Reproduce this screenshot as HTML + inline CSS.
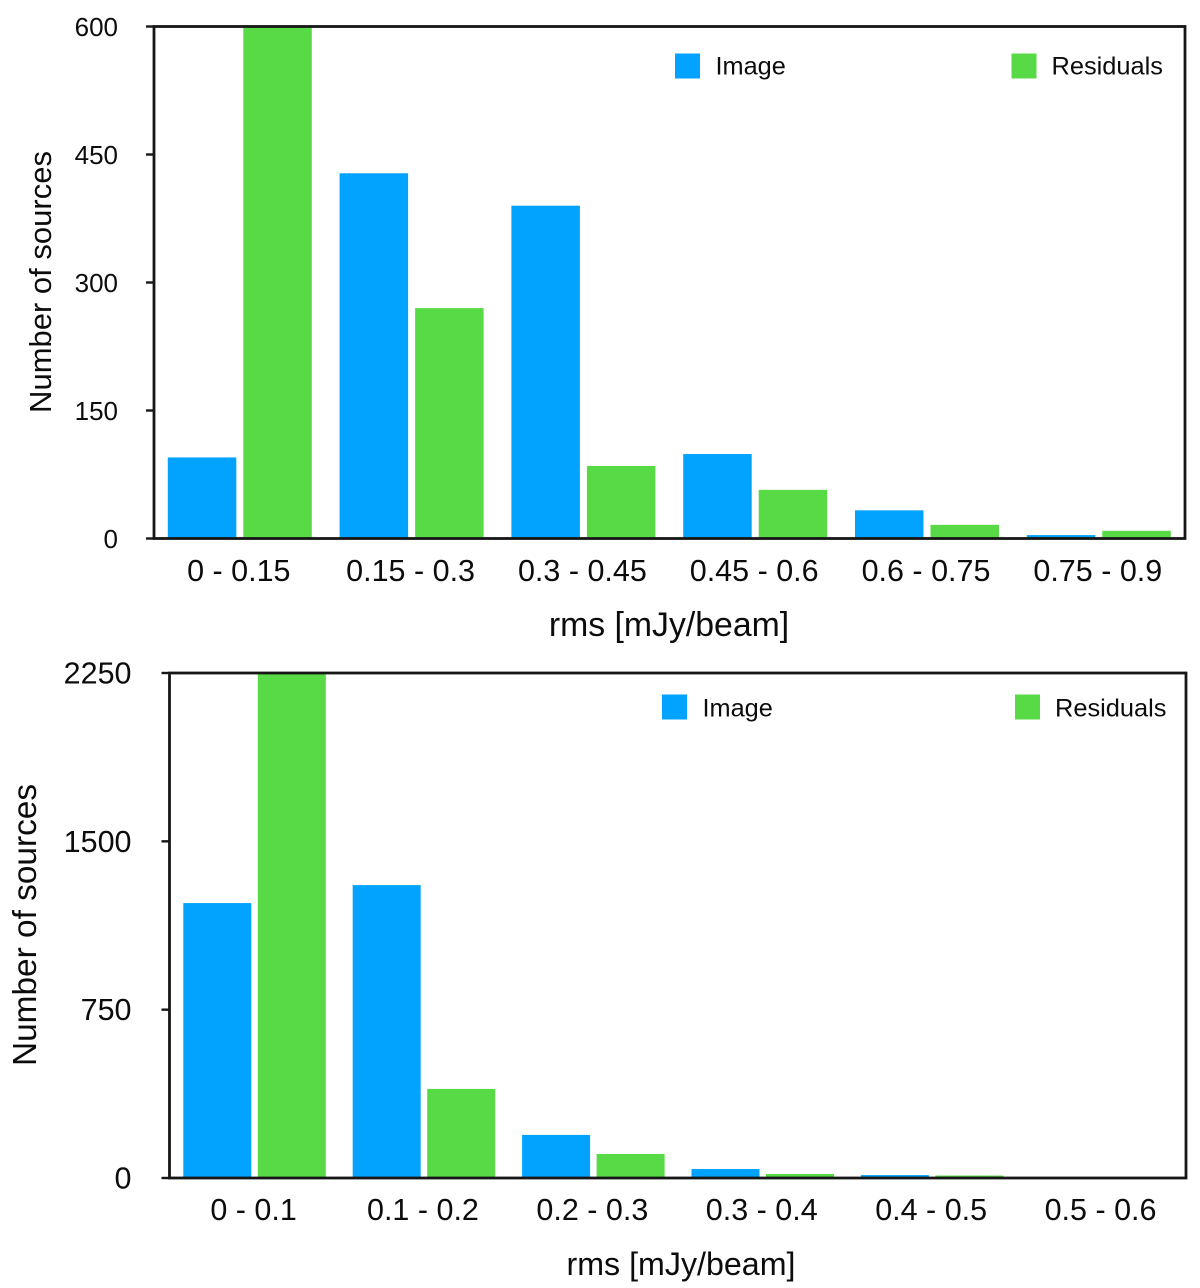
<!DOCTYPE html>
<html>
<head>
<meta charset="utf-8">
<title>Number of sources by rms</title>
<style>
html,body{margin:0;padding:0;background:#fff;}
svg{display:block;}
text{font-family:"Liberation Sans",Arial,sans-serif;fill:#0c0c0c;}
</style>
</head>
<body>
<svg id="figure" width="1200" height="1288" viewBox="0 0 1200 1288" xmlns="http://www.w3.org/2000/svg"></svg>
<script>
const topCategories = ['0 - 0.15','0.15 - 0.3','0.3 - 0.45','0.45 - 0.6','0.6 - 0.75','0.75 - 0.9'];
const topImage = [95, 428, 390, 99, 33, 4];
const topResiduals = [600, 270, 85, 57, 16, 9];
const topTicks = [0, 150, 300, 450, 600];

const bottomCategories = ['0 - 0.1','0.1 - 0.2','0.2 - 0.3','0.3 - 0.4','0.4 - 0.5','0.5 - 0.6'];
const bottomImage = [1225, 1305, 192, 40, 13, 0];
const bottomResiduals = [2250, 397, 107, 18, 11, 0];
const bottomTicks = [0, 750, 1500, 2250];

const BLUE = '#02a3fe', GREEN = '#58da47', INK = '#161616';
const NS = 'http://www.w3.org/2000/svg';
const svg = document.getElementById('figure');

function make(tag, attrs, parent) {
  const el = document.createElementNS(NS, tag);
  for (const k in attrs) el.setAttribute(k, attrs[k]);
  parent.appendChild(el);
  return el;
}

function label(parent, str, x, y, size, anchor, rotate) {
  const t = make('text', {
    x: x, y: y, 'font-size': size, 'text-anchor': anchor
  }, parent);
  if (rotate) t.setAttribute('transform', 'rotate(-90 ' + x + ' ' + y + ')');
  t.textContent = str;
  return t;
}

function drawChart(cfg) {
  const g = make('g', {}, svg);
  
  

  const yScale = v => cfg.bottom - (v / cfg.yMax) * (cfg.bottom - cfg.top);
  const xBlue = i => cfg.firstBar + i * cfg.step;
  const xGreen = i => cfg.firstBar + cfg.offset + i * cfg.step;

  cfg.categories.forEach(function (cat, i) {
    const vb = cfg.image[i];
    const vg = cfg.residuals[i];
    if (vb > 0) {
      const b = make('rect', { x: xBlue(i), y: yScale(vb), width: cfg.barW, height: cfg.bottom - yScale(vb), fill: BLUE }, g);
      
      
    }
    if (vg > 0) {
      const r = make('rect', { x: xGreen(i), y: yScale(vg), width: cfg.barW, height: cfg.bottom - yScale(vg), fill: GREEN }, g);
      
      
    }
    const t = label(g, cat, xBlue(i) + (cfg.offset + cfg.barW) / 2 - 1, cfg.xLabelY, cfg.tickX, 'middle');
    
    
  });

  const frame = make('rect', {
    x: cfg.left, y: cfg.top, width: cfg.right - cfg.left, height: cfg.bottom - cfg.top,
    fill: 'none', stroke: INK, 'stroke-width': 2.8
  }, g);
  
  

  cfg.ticks.forEach(function (v) {
    const y = yScale(v);
    const tick = make('line', { x1: cfg.left - 8, x2: cfg.left, y1: y, y2: y, stroke: INK, 'stroke-width': 2.4 }, g);
    
    
    const t = label(g, String(v), cfg.left - cfg.tickGap, y + cfg.tickDy, cfg.tickY, 'end');
    
    
  });

  const xt = label(g, 'rms [mJy/beam]', cfg.xTitleX, cfg.xTitleY, cfg.xTitleSize, 'middle');
  
  

  const yt = label(g, 'Number of sources', cfg.yTitleX, cfg.yTitleY, cfg.yTitleSize, 'middle', true);
  
  

  const s1 = make('rect', { x: cfg.legendImageX, y: cfg.legendY, width: 25, height: 25, fill: BLUE }, g);
  
  
  const l1 = label(g, 'Image', cfg.legendImageX + 40.5, cfg.legendY + cfg.legendDy, 25.3, 'start');
  
  
  const s2 = make('rect', { x: cfg.legendResX, y: cfg.legendY, width: 25, height: 25, fill: GREEN }, g);
  
  
  const l2 = label(g, 'Residuals', cfg.legendResX + 40, cfg.legendY + cfg.legendDy, 25.4, 'start');
  
  
}

drawChart({
  name: 'top-chart', categories: topCategories, image: topImage, residuals: topResiduals, ticks: topTicks, yMax: 600,
  left: 154, right: 1185, top: 26.5, bottom: 538.5,
  firstBar: 167.8, step: 171.8, offset: 75.5, barW: 68.5,
  xLabelY: 581, tickX: 30.5, tickY: 26, tickGap: 36, tickDy: 9.5,
  xTitleX: 669, xTitleY: 636, xTitleSize: 33.8,
  yTitleX: 51, yTitleY: 282, yTitleSize: 31,
  legendImageX: 675, legendResX: 1011.5, legendY: 53.5, legendDy: 21
});

drawChart({
  name: 'bottom-chart', categories: bottomCategories, image: bottomImage, residuals: bottomResiduals, ticks: bottomTicks, yMax: 2250,
  left: 169.5, right: 1186, top: 673, bottom: 1178,
  firstBar: 183.3, step: 169.4, offset: 74.5, barW: 68,
  xLabelY: 1220, tickX: 30.5, tickY: 30.5, tickGap: 38, tickDy: 10.5,
  xTitleX: 681, xTitleY: 1275, xTitleSize: 32.2,
  yTitleX: 36, yTitleY: 925, yTitleSize: 33.4,
  legendImageX: 662, legendResX: 1015, legendY: 694.5, legendDy: 22
});
</script>
</body>
</html>
